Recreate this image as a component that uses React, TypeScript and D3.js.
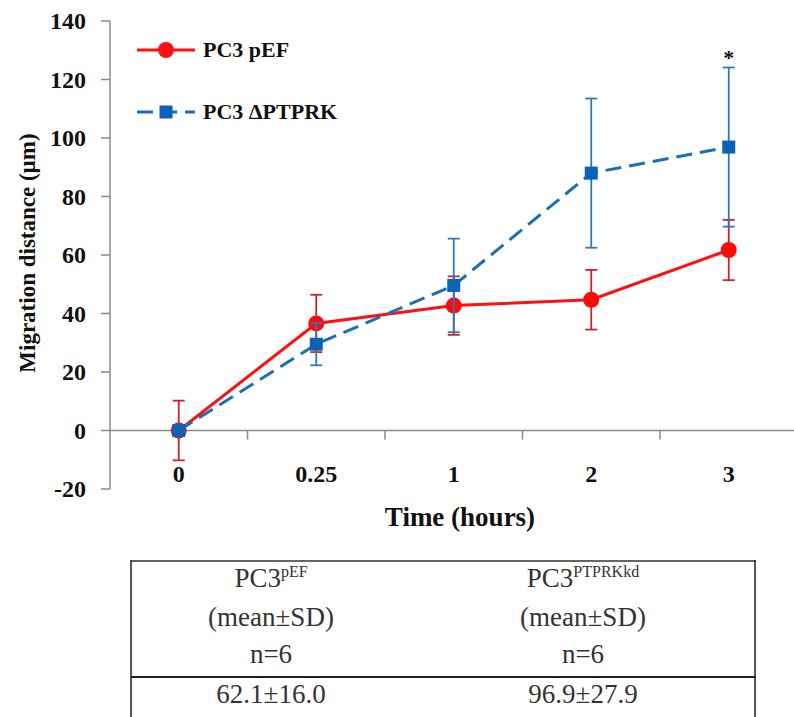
import React, { useEffect, useRef } from "react";
import * as d3 from "d3";

const width = 794;
const height = 717;

// time points (hours)
const times = ["0", "0.25", "1", "2", "3"];
// PC3 pEF
const pefMean = [0, 36.6, 42.7, 44.7, 61.7];
const pefSD = [10.2, 9.8, 10.0, 10.2, 10.3];
// PC3 ΔPTPRK
const kdMean = [0, 29.5, 49.6, 88.0, 96.9];
const kdSD = [0, 7.2, 16.0, 25.5, 27.2];

const yTicks = [-20, 0, 20, 40, 60, 80, 100, 120, 140];

const legendData = [
  { title: "PC3 pEF", color: "#ff1010", shape: "circle", dash: null },
  { title: "PC3 ΔPTPRK", color: "#1a6fb5", shape: "square", dash: "16 8" },
];

// summary table at 3 h
const tableHead = [
  { base: "PC3", sup: "pEF" },
  { base: "PC3", sup: "PTPRKkd" },
];
const tableValues = ["62.1±16.0", "96.9±27.9"];

const serif = "'Liberation Serif', 'Times New Roman', serif";

const App = () => {
  const ref = useRef<SVGSVGElement>(null);

  useEffect(() => {
    const svg = d3.select(ref.current);
    svg.selectAll("*").remove();

    const x = d3.scaleBand().domain(times).range([110, 797.5]);
    const y = d3.scaleLinear().domain([-20, 140]).range([489, 21]);
    const cx = (t: string) => (x(t) as number) + x.bandwidth() / 2;

    // y axis
    svg
      .append("line")
      .attr("x1", 110)
      .attr("x2", 110)
      .attr("y1", y(140))
      .attr("y2", y(-20))
      .attr("stroke", "#8a8a8a")
      .attr("stroke-width", 1.5);

    const yt = svg.append("g").selectAll("g").data(yTicks).join("g");
    yt.append("line")
      .attr("x1", 101)
      .attr("x2", 110)
      .attr("y1", (d) => y(d))
      .attr("y2", (d) => y(d))
      .attr("stroke", "#8a8a8a")
      .attr("stroke-width", 1.5);
    yt.append("text")
      .text((d) => d)
      .attr("x", 86)
      .attr("y", (d) => y(d) + 8)
      .attr("text-anchor", "end")
      .attr("font-family", serif)
      .attr("font-weight", 700)
      .attr("font-size", 24)
      .attr("fill", "#111");

    // x axis at zero
    svg
      .append("line")
      .attr("x1", 110)
      .attr("x2", 794)
      .attr("y1", y(0))
      .attr("y2", y(0))
      .attr("stroke", "#8a8a8a")
      .attr("stroke-width", 1.5);

    svg
      .append("g")
      .selectAll("line")
      .data(times.slice(1))
      .join("line")
      .attr("x1", (d) => x(d) as number)
      .attr("x2", (d) => x(d) as number)
      .attr("y1", y(0))
      .attr("y2", y(0) + 9)
      .attr("stroke", "#8a8a8a")
      .attr("stroke-width", 1.5);

    svg
      .append("g")
      .selectAll("text")
      .data(times)
      .join("text")
      .text((d) => d)
      .attr("x", (d) => cx(d))
      .attr("y", 482)
      .attr("text-anchor", "middle")
      .attr("font-family", serif)
      .attr("font-weight", 700)
      .attr("font-size", 24)
      .attr("fill", "#111");

    // axis titles
    svg
      .append("text")
      .text("Time (hours)")
      .attr("x", 460)
      .attr("y", 526)
      .attr("text-anchor", "middle")
      .attr("font-family", serif)
      .attr("font-weight", 700)
      .attr("font-size", 27)
      .attr("fill", "#111");

    svg
      .append("text")
      .text("Migration distance (µm)")
      .attr("transform", "translate(35,253) rotate(-90)")
      .attr("text-anchor", "middle")
      .attr("font-family", serif)
      .attr("font-weight", 700)
      .attr("font-size", 23)
      .attr("fill", "#111");

    const line = d3
      .line<number>()
      .x((d, i) => cx(times[i]))
      .y((d) => y(d));

    // error bars
    const drawErr = (mean: number[], sd: number[], color: string) => {
      const g = svg.append("g").attr("stroke", color).attr("stroke-width", 1.8);
      const bars = g
        .selectAll("g")
        .data(mean.map((m, i) => ({ m, s: sd[i], t: times[i] })))
        .join("g")
        .filter((d) => d.s > 0);
      bars
        .append("line")
        .attr("x1", (d) => cx(d.t))
        .attr("x2", (d) => cx(d.t))
        .attr("y1", (d) => y(d.m - d.s))
        .attr("y2", (d) => y(d.m + d.s));
      [1, -1].forEach((k) => {
        bars
          .append("line")
          .attr("x1", (d) => cx(d.t) - 6)
          .attr("x2", (d) => cx(d.t) + 6)
          .attr("y1", (d) => y(d.m + k * d.s))
          .attr("y2", (d) => y(d.m + k * d.s));
      });
    };

    // PC3 pEF series
    drawErr(pefMean, pefSD, "#d4202a");
    svg
      .append("path")
      .attr("d", line(pefMean))
      .attr("fill", "none")
      .attr("stroke", "#ff1010")
      .attr("stroke-width", 3);
    svg
      .append("g")
      .selectAll("circle")
      .data(pefMean)
      .join("circle")
      .attr("cx", (d, i) => cx(times[i]))
      .attr("cy", (d) => y(d))
      .attr("r", 8)
      .attr("fill", "#ff0a0a");

    // PC3 ΔPTPRK series
    drawErr(kdMean, kdSD, "#2f78b8");
    svg
      .append("path")
      .attr("d", line(kdMean))
      .attr("fill", "none")
      .attr("stroke", "#1a6fb5")
      .attr("stroke-width", 3)
      .attr("stroke-dasharray", "16 8");
    svg
      .append("g")
      .selectAll("rect")
      .data(kdMean)
      .join("rect")
      .attr("x", (d, i) => cx(times[i]) - 6.5)
      .attr("y", (d) => y(d) - 6.5)
      .attr("width", 13)
      .attr("height", 13)
      .attr("fill", "#0b63b3");

    // significance mark
    svg
      .append("text")
      .text("*")
      .attr("x", cx("3"))
      .attr("y", 65)
      .attr("text-anchor", "middle")
      .attr("font-family", serif)
      .attr("font-weight", 700)
      .attr("font-size", 22)
      .attr("fill", "#111");

    // legend
    const lg = svg
      .append("g")
      .selectAll("g")
      .data(legendData)
      .join("g")
      .attr("transform", (d, i) => `translate(0,${50 + i * 62})`);
    lg.append("line")
      .attr("x1", 137)
      .attr("x2", 195)
      .attr("stroke", (d) => d.color)
      .attr("stroke-width", 3)
      .attr("stroke-dasharray", (d) => d.dash);
    lg.filter((d) => d.shape === "circle")
      .append("circle")
      .attr("cx", 166)
      .attr("r", 8)
      .attr("fill", (d) => d.color);
    lg.filter((d) => d.shape === "square")
      .append("rect")
      .attr("x", 159.5)
      .attr("y", -6.5)
      .attr("width", 13)
      .attr("height", 13)
      .attr("fill", "#0b63b3");
    lg.append("text")
      .text((d) => d.title)
      .attr("x", 203)
      .attr("y", 7)
      .attr("font-family", serif)
      .attr("font-weight", 700)
      .attr("font-size", 22)
      .attr("fill", "#111");

    // table
    const tbl = svg.append("g");
    tbl.append("line").attr("x1", 131).attr("x2", 756).attr("y1", 561).attr("y2", 561)
      .attr("stroke", "#333").attr("stroke-width", 1.5);
    tbl.append("line").attr("x1", 131).attr("x2", 756).attr("y1", 677).attr("y2", 677)
      .attr("stroke", "#222").attr("stroke-width", 2);
    [131, 755].forEach((xx) =>
      tbl.append("line").attr("x1", xx).attr("x2", xx).attr("y1", 560).attr("y2", 717)
        .attr("stroke", "#222").attr("stroke-width", 1.5)
    );
    const colX = [271, 583];
    const cellText = (txt: string, cxp: number, by: number) =>
      tbl.append("text").text(txt)
        .attr("x", cxp).attr("y", by)
        .attr("text-anchor", "middle").attr("font-family", serif)
        .attr("font-size", 27).attr("fill", "#333");
    tableHead.forEach((h, i) => {
      const t = cellText("", colX[i], 587);
      t.append("tspan").text(h.base);
      t.append("tspan").text(h.sup).attr("font-size", 16).attr("dy", -10);
      cellText("(mean±SD)", colX[i], 626);
      cellText("n=6", colX[i], 663);
      cellText(tableValues[i], colX[i], 703);
    });
  }, []);

  return (
    <svg
      ref={ref}
      width={width}
      height={height}
      style={{ position: "absolute", left: 0, top: 0, background: "#fff" }}
    ></svg>
  );
};

export default App;
